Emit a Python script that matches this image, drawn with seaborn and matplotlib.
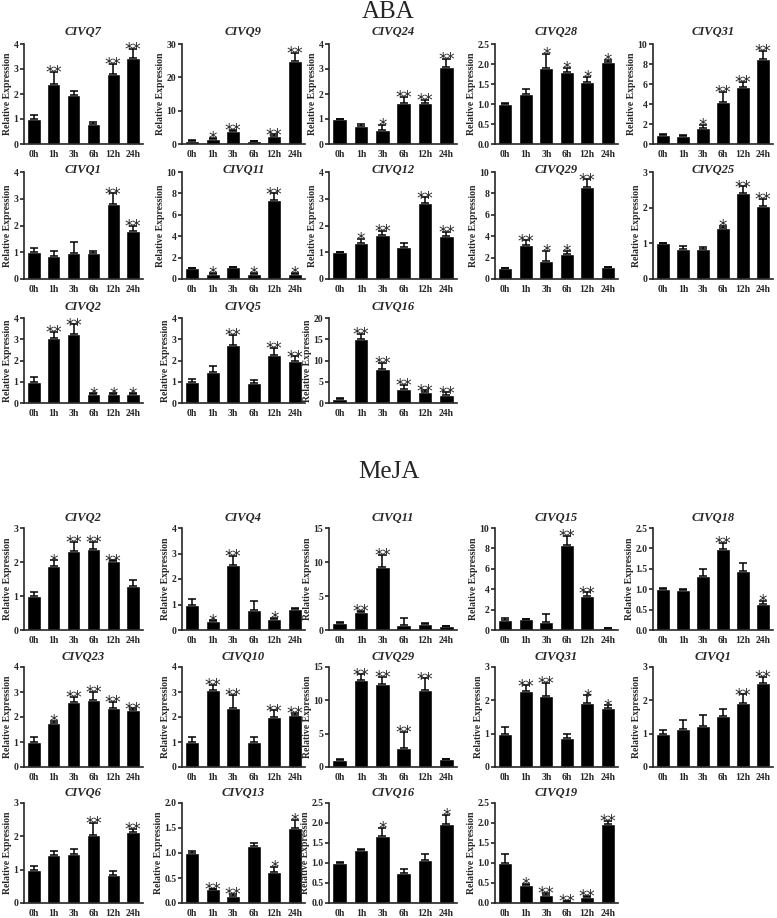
import matplotlib
matplotlib.use("Agg")
import matplotlib.pyplot as plt
import seaborn as sns
import numpy as np

sns.set_style("ticks")
plt.rcParams["font.family"] = ["Liberation Serif", "DejaVu Serif"]

times = ["0h", "1h", "3h", "6h", "12h", "24h"]

# ---- ABA panels ----
aba_genes = ["CIVQ7", "CIVQ9", "CIVQ24", "CIVQ28", "CIVQ31",
             "CIVQ1", "CIVQ11", "CIVQ12", "CIVQ29", "CIVQ25",
             "CIVQ2", "CIVQ5", "CIVQ16"]
aba_mean = [
    [1.0, 2.4, 1.97, 0.82, 2.8, 3.43],
    [1.0, 1.5, 3.8, 0.9, 2.5, 25.0],
    [1.0, 0.72, 0.55, 1.64, 1.64, 3.08],
    [1.0, 1.25, 1.9, 1.8, 1.55, 2.04],
    [0.95, 0.85, 1.65, 4.25, 5.7, 8.5],
    [1.0, 0.85, 0.98, 0.98, 2.8, 1.78],
    [1.0, 0.5, 1.1, 0.5, 7.4, 0.5],
    [1.0, 1.35, 1.65, 1.2, 2.85, 1.6],
    [1.0, 3.15, 1.7, 2.3, 8.6, 1.1],
    [1.0, 0.85, 0.85, 1.42, 2.4, 2.05],
    [1.0, 3.05, 3.25, 0.42, 0.42, 0.42],
    [1.0, 1.45, 2.72, 0.92, 2.27, 1.98],
    [1.0, 15.0, 8.0, 3.3, 2.7, 1.9],
]
aba_err = [
    [0.15, 0.5, 0.15, 0.08, 0.4, 0.37],
    [0.1, 0.3, 0.5, 0.1, 0.4, 2.3],
    [0.02, 0.08, 0.2, 0.26, 0.14, 0.32],
    [0.02, 0.13, 0.35, 0.1, 0.13, 0.06],
    [0.05, 0.08, 0.25, 0.95, 0.5, 0.8],
    [0.15, 0.18, 0.39, 0.05, 0.4, 0.22],
    [0.05, 0.05, 0.05, 0.1, 0.6, 0.05],
    [0.02, 0.15, 0.15, 0.15, 0.2, 0.15],
    [0.05, 0.45, 0.9, 0.3, 0.7, 0.05],
    [0.02, 0.08, 0.05, 0.08, 0.2, 0.2],
    [0.22, 0.3, 0.45, 0.03, 0.03, 0.03],
    [0.15, 0.27, 0.5, 0.18, 0.33, 0.22],
    [0.1, 1.3, 1.5, 0.9, 0.3, 0.6],
]
aba_sig = [
    ["", "**", "", "", "**", "**"],
    ["", "*", "**", "", "**", "**"],
    ["", "", "*", "**", "**", "**"],
    ["", "", "*", "*", "*", "*"],
    ["", "", "*", "**", "**", "**"],
    ["", "", "", "", "**", "**"],
    ["", "*", "", "*", "**", "*"],
    ["", "*", "**", "", "**", "**"],
    ["", "**", "*", "*", "**", ""],
    ["", "", "", "*", "**", "**"],
    ["", "**", "**", "*", "*", "*"],
    ["", "", "**", "", "**", "**"],
    ["", "**", "**", "**", "**", "**"],
]
aba_ymax = [4, 30, 4, 2.5, 10, 4, 10, 4, 10, 3, 4, 4, 20]
aba_step = [1, 10, 1, 0.5, 2, 1, 2, 1, 2, 1, 1, 1, 5]

# ---- MeJA panels ----
meja_genes = ["CIVQ2", "CIVQ4", "CIVQ11", "CIVQ15", "CIVQ18",
              "CIVQ23", "CIVQ10", "CIVQ29", "CIVQ31", "CIVQ1",
              "CIVQ6", "CIVQ13", "CIVQ16", "CIVQ19"]
meja_mean = [
    [1.0, 1.88, 2.33, 2.37, 2.02, 1.3],
    [1.0, 0.35, 2.55, 0.8, 0.42, 0.82],
    [1.0, 2.6, 9.2, 0.7, 0.9, 0.6],
    [1.0, 1.05, 0.75, 8.3, 3.35, 0.2],
    [1.0, 0.98, 1.32, 1.98, 1.45, 0.63],
    [1.0, 1.75, 2.6, 2.7, 2.35, 2.27],
    [1.0, 3.1, 2.37, 1.0, 2.02, 2.08],
    [1.0, 13.0, 12.5, 2.9, 11.6, 1.2],
    [1.0, 2.27, 2.12, 0.88, 1.92, 1.78],
    [1.0, 1.15, 1.22, 1.52, 1.93, 2.53],
    [1.0, 1.45, 1.48, 2.05, 0.85, 2.12],
    [1.0, 0.28, 0.15, 1.15, 0.63, 1.5],
    [1.0, 1.32, 1.67, 0.75, 1.08, 1.97],
    [1.0, 0.46, 0.2, 0.04, 0.15, 1.98],
]
meja_err = [
    [0.12, 0.17, 0.27, 0.23, 0.03, 0.17],
    [0.2, 0.03, 0.35, 0.32, 0.05, 0.03],
    [0.2, 0.2, 1.8, 1.1, 0.1, 0.05],
    [0.2, 0.05, 0.85, 0.9, 0.35, 0.03],
    [0.03, 0.02, 0.18, 0.15, 0.18, 0.09],
    [0.22, 0.1, 0.22, 0.32, 0.27, 0.08],
    [0.22, 0.2, 0.53, 0.22, 0.25, 0.07],
    [0.2, 0.9, 1.0, 2.4, 1.7, 0.05],
    [0.2, 0.18, 0.4, 0.12, 0.23, 0.07],
    [0.12, 0.25, 0.33, 0.23, 0.25, 0.17],
    [0.12, 0.12, 0.14, 0.35, 0.1, 0.11],
    [0.04, 0.01, 0.03, 0.05, 0.09, 0.17],
    [0.03, 0.03, 0.2, 0.1, 0.15, 0.23],
    [0.22, 0.02, 0.05, 0.01, 0.03, 0.07],
]
meja_sig = [
    ["", "*", "**", "**", "**", ""],
    ["", "*", "**", "", "*", ""],
    ["", "**", "**", "", "", ""],
    ["", "", "", "**", "**", ""],
    ["", "", "", "**", "", "*"],
    ["", "*", "**", "**", "**", "**"],
    ["", "**", "**", "", "**", "**"],
    ["", "**", "**", "**", "**", ""],
    ["", "**", "**", "", "*", "*"],
    ["", "", "", "", "**", "**"],
    ["", "", "", "**", "", "**"],
    ["", "**", "**", "", "*", "*"],
    ["", "", "*", "", "", "*"],
    ["", "*", "**", "**", "**", "**"],
]
meja_ymax = [3, 4, 15, 10, 2.5, 4, 4, 15, 3, 3, 3, 2.0, 2.5, 2.5]
meja_step = [1, 1, 5, 2, 0.5, 1, 1, 5, 1, 1, 1, 0.5, 0.5, 0.5]

# layout in pixels
W, H = 777, 918
col_left = [24, 182, 329, 495, 653]
col_width = [119, 123, 128, 123, 120]
aba_rows = [(44, 144, 32), (172, 279, 170), (318, 403, 307)]
meja_rows = [(528, 630, 518), (667, 767, 657), (803, 903, 793)]

fig = plt.figure(figsize=(W / 100, H / 100), dpi=100)


def draw_panel(ax, title, mean, err, sig, ymax, step, title_y):
    sns.barplot(x=times, y=mean, color="black", saturation=1, width=0.68,
                ax=ax, errorbar=None)
    xs = np.arange(len(times))
    ax.errorbar(xs, mean, yerr=[np.zeros(len(mean)), err], fmt="none",
                ecolor="black", elinewidth=1.1, capsize=3, capthick=1.1)
    for x, m, e, s in zip(xs, mean, err, sig):
        if s:
            ax.annotate(s, (x, m + e), xytext=(0, -4.5), textcoords="offset points",
                        ha="center", va="baseline", fontsize=12,
                        family="DejaVu Sans", annotation_clip=False)
    ax.set_xlim(-0.5, len(times) - 0.5)
    ax.set_ylim(0, ymax)
    ticks = np.arange(0, ymax + step / 2, step)
    ax.set_yticks(ticks)
    if step < 1:
        ax.set_yticklabels(["%.1f" % t for t in ticks])
    else:
        ax.set_yticklabels(["%d" % t for t in ticks])
    sns.despine(ax=ax)
    for sp in ["left", "bottom"]:
        ax.spines[sp].set_linewidth(1.2)
    ax.tick_params(axis="y", length=3, width=1.2, pad=1, labelsize=7)
    ax.tick_params(axis="x", length=0, pad=4, labelsize=7)
    for lab in ax.get_xticklabels() + ax.get_yticklabels():
        lab.set_fontweight("bold")
    ax.set_xlabel("")
    ax.set_ylabel("Relative Expression", fontsize=7, fontweight="bold",
                  labelpad=1)
    bb = ax.get_position()
    cx = bb.x0 + bb.width / 2
    fig.text(cx, 1 - title_y / H, title, ha="center", va="center",
             fontsize=9, fontweight="bold", fontstyle="italic")


def draw_group(genes, means, errs, sigs, ymaxs, steps, rows):
    for i, g in enumerate(genes):
        r, c = divmod(i, 5)
        top, zero, ty = rows[r]
        ax = fig.add_axes([col_left[c] / W, 1 - zero / H,
                           col_width[c] / W, (zero - top) / H])
        draw_panel(ax, g, means[i], errs[i], sigs[i], ymaxs[i], steps[i], ty)


draw_group(aba_genes, aba_mean, aba_err, aba_sig, aba_ymax, aba_step, aba_rows)
draw_group(meja_genes, meja_mean, meja_err, meja_sig, meja_ymax, meja_step, meja_rows)

fig.text(0.5, 1 - 12 / H, "ABA", ha="center", va="center", fontsize=18)
fig.text(0.5, 1 - 472 / H, "MeJA", ha="center", va="center", fontsize=18)

fig.savefig("out.png", dpi=100)
